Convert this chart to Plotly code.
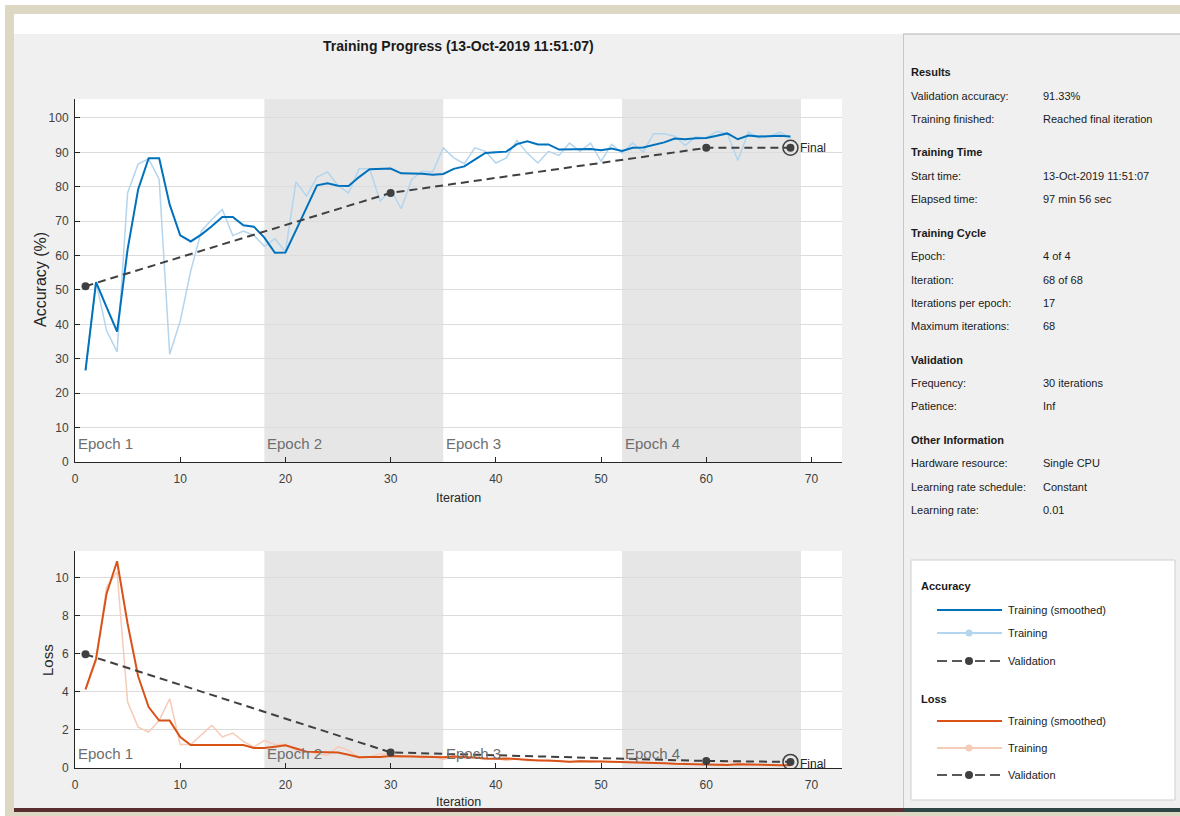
import plotly.graph_objects as go

# ---------------- data ----------------
iterations = list(range(1, 69))

acc_smooth = [26.6, 52.3, 45.0, 37.9, 61.8, 79.2, 88.3, 88.3, 74.8, 65.9,
              64.1, 66.1, 68.5, 71.2, 71.2, 68.8, 68.4, 65.2, 60.8, 60.9,
              67.3, 74.0, 80.4, 81.0, 80.3, 80.2, 82.8, 85.1, 85.3, 85.3,
              83.9, 83.9, 83.8, 83.5, 83.7, 85.2, 85.9, 87.9, 89.8, 90.0,
              90.2, 92.4, 93.2, 92.3, 92.3, 90.8, 90.9, 90.9, 91.0, 90.6,
              91.1, 90.4, 91.3, 91.4, 92.1, 92.9, 94.0, 93.8, 94.1, 94.2,
              94.8, 95.5, 93.8, 94.9, 94.6, 94.7, 94.8, 94.6]

acc_raw = [26.6, 52.3, 38.2, 32.0, 78.2, 86.6, 88.1, 82.1, 31.3, 40.9,
           55.5, 67.1, 70.5, 73.4, 65.8, 67.1, 65.9, 62.7, 64.9, 61.1,
           81.4, 77.3, 82.8, 84.3, 80.3, 78.2, 85.2, 85.2, 75.8, 79.2,
           73.6, 82.1, 84.5, 84.3, 91.3, 88.4, 86.7, 91.3, 90.3, 86.9,
           88.4, 93.5, 89.7, 86.9, 90.3, 89.1, 92.7, 90.3, 92.7, 87.4,
           92.3, 89.8, 92.7, 90.1, 95.4, 95.4, 94.7, 92.0, 94.5, 94.2,
           96.1, 95.4, 87.6, 95.9, 94.2, 94.7, 95.9, 94.2]

loss_smooth = [4.13, 5.74, 9.16, 10.86, 7.58, 4.82, 3.20, 2.49, 2.49, 1.63,
               1.21, 1.21, 1.21, 1.21, 1.21, 1.21, 1.05, 1.05, 1.12, 1.19,
               1.02, 0.86, 0.84, 0.84, 0.81, 0.70, 0.56, 0.58, 0.58, 0.63,
               0.62, 0.60, 0.60, 0.58, 0.56, 0.60, 0.58, 0.55, 0.50, 0.48,
               0.50, 0.46, 0.42, 0.40, 0.40, 0.38, 0.33, 0.35, 0.36, 0.34,
               0.33, 0.32, 0.30, 0.28, 0.27, 0.25, 0.22, 0.21, 0.20, 0.20,
               0.18, 0.16, 0.20, 0.18, 0.17, 0.16, 0.15, 0.15]

loss_raw = [4.13, 5.6, 9.5, 10.3, 3.47, 2.15, 1.89, 2.5, 3.64, 1.23,
            1.23, 1.72, 2.24, 1.63, 1.84, 1.40, 1.10, 1.44, 1.23, 1.23,
            0.93, 0.84, 0.75, 0.67, 1.12, 0.93, 0.53, 0.58, 0.75, 0.70,
            0.55, 0.65, 0.52, 0.60, 0.45, 0.62, 0.50, 0.55, 0.45, 0.50,
            0.40, 0.48, 0.38, 0.42, 0.35, 0.40, 0.30, 0.38, 0.33, 0.36,
            0.30, 0.32, 0.28, 0.30, 0.25, 0.28, 0.20, 0.22, 0.18, 0.20,
            0.15, 0.35, 0.30, 0.15, 0.17, 0.14, 0.16, 0.13]

val_iter = [1, 30, 60, 68]
val_acc = [51.1, 78.2, 91.3, 91.33]
val_loss = [5.97, 0.82, 0.37, 0.32]

epoch_labels = ["Epoch 1", "Epoch 2", "Epoch 3", "Epoch 4"]
epoch_starts = [0, 18, 35, 52]
shaded_epochs = [(18, 35), (52, 69)]

x_ticks = [0, 10, 20, 30, 40, 50, 60, 70]
acc_ticks = [0, 10, 20, 30, 40, 50, 60, 70, 80, 90, 100]
loss_ticks = [0, 2, 4, 6, 8, 10]

info_sections = [
    ("Results", [("Validation accuracy:", "91.33%"),
                 ("Training finished:", "Reached final iteration")]),
    ("Training Time", [("Start time:", "13-Oct-2019 11:51:07"),
                       ("Elapsed time:", "97 min 56 sec")]),
    ("Training Cycle", [("Epoch:", "4 of 4"),
                        ("Iteration:", "68 of 68"),
                        ("Iterations per epoch:", "17"),
                        ("Maximum iterations:", "68")]),
    ("Validation", [("Frequency:", "30 iterations"),
                    ("Patience:", "Inf")]),
    ("Other Information", [("Hardware resource:", "Single CPU"),
                           ("Learning rate schedule:", "Constant"),
                           ("Learning rate:", "0.01")]),
]

# ---------------- styling ----------------
W, H = 1180, 816
SANS = "Liberation Sans, Arial, Helvetica, sans-serif"
BLUE = "#0072BD"
LBLUE = "#b4d5ee"
ORANGE = "#D95319"
LORANGE = "#f6cbb8"
VAL = "#404040"
TAN = "#ddd8c3"
PANEL = "#f0f0f0"
TXT = "#1a1a1a"
AX = "#262626"
PANEL_FS = 11


def px(x):
    return x / W


def py(y):
    return 1 - y / H


fig = go.Figure()

# accuracy traces
fig.add_trace(go.Scatter(x=iterations, y=acc_raw, mode="lines",
                         line=dict(color=LBLUE, width=1.5), xaxis="x", yaxis="y",
                         showlegend=False, name="Training"))
fig.add_trace(go.Scatter(x=iterations, y=acc_smooth, mode="lines",
                         line=dict(color=BLUE, width=2), xaxis="x", yaxis="y",
                         showlegend=False, name="Training (smoothed)"))
fig.add_trace(go.Scatter(x=val_iter, y=val_acc, mode="lines+markers",
                         line=dict(color=VAL, width=2, dash="8px,5px"),
                         marker=dict(color=VAL, size=8), xaxis="x", yaxis="y",
                         showlegend=False, name="Validation"))
fig.add_trace(go.Scatter(x=val_iter[-1:], y=val_acc[-1:], mode="markers",
                         marker=dict(color=VAL, size=15, symbol="circle-open",
                                     line=dict(color=VAL, width=1.5)),
                         xaxis="x", yaxis="y", showlegend=False, hoverinfo="skip"))

# loss traces
fig.add_trace(go.Scatter(x=iterations, y=loss_raw, mode="lines",
                         line=dict(color=LORANGE, width=1.5), xaxis="x2", yaxis="y2",
                         showlegend=False, name="Training"))
fig.add_trace(go.Scatter(x=iterations, y=loss_smooth, mode="lines",
                         line=dict(color=ORANGE, width=2), xaxis="x2", yaxis="y2",
                         showlegend=False, name="Training (smoothed)"))
fig.add_trace(go.Scatter(x=val_iter, y=val_loss, mode="lines+markers",
                         line=dict(color=VAL, width=2, dash="8px,5px"),
                         marker=dict(color=VAL, size=8), xaxis="x2", yaxis="y2",
                         showlegend=False, name="Validation"))
fig.add_trace(go.Scatter(x=val_iter[-1:], y=val_loss[-1:], mode="markers",
                         marker=dict(color=VAL, size=15, symbol="circle-open",
                                     line=dict(color=VAL, width=1.5)),
                         xaxis="x2", yaxis="y2", showlegend=False, hoverinfo="skip"))

shapes = []
annotations = []

# ---- background frame ----
shapes.append(dict(type="rect", xref="paper", yref="paper", x0=0, x1=1, y0=py(0), y1=py(34),
                   fillcolor="white", line_width=0, layer="below"))
shapes.append(dict(type="rect", xref="paper", yref="paper", x0=px(5), x1=1, y0=py(5), y1=py(14),
                   fillcolor=TAN, line_width=0, layer="below"))
shapes.append(dict(type="rect", xref="paper", yref="paper", x0=0, x1=px(5), y0=0, y1=1,
                   fillcolor="white", line_width=0, layer="below"))
shapes.append(dict(type="rect", xref="paper", yref="paper", x0=px(5), x1=px(14), y0=0, y1=py(5),
                   fillcolor=TAN, line_width=0, layer="below"))
shapes.append(dict(type="rect", xref="paper", yref="paper", x0=px(5), x1=1, y0=0, y1=py(812),
                   fillcolor=TAN, line_width=0, layer="below"))
shapes.append(dict(type="rect", xref="paper", yref="paper", x0=px(14), x1=px(903), y0=py(812), y1=py(808),
                   fillcolor="#5a2e2e", line_width=0, layer="below"))
shapes.append(dict(type="rect", xref="paper", yref="paper", x0=px(903), x1=1, y0=py(812), y1=py(808),
                   fillcolor="#2f4444", line_width=0, layer="below"))
shapes.append(dict(type="line", xref="paper", yref="paper", x0=px(903), x1=1, y0=py(34), y1=py(34),
                   line=dict(color="#b0b0b0", width=1), layer="below"))
shapes.append(dict(type="line", xref="paper", yref="paper", x0=px(903.5), x1=px(903.5), y0=py(34), y1=py(808),
                   line=dict(color="#c8c8c8", width=1), layer="below"))
# legend box
shapes.append(dict(type="rect", xref="paper", yref="paper", x0=px(911), x1=px(1175), y0=py(800), y1=py(560),
                   fillcolor="white", line=dict(color="#cfcfcf", width=1), layer="below"))

# ---- epoch shading ----
for (a, b) in shaded_epochs:
    for xr, yr in (("x", "y domain"), ("x2", "y2 domain")):
        shapes.append(dict(type="rect", xref=xr, yref=yr, x0=a, x1=b, y0=0, y1=1,
                           fillcolor="#e6e6e6", line_width=0, layer="below"))

# ---- epoch labels ----
for lab, s in zip(epoch_labels, epoch_starts):
    annotations.append(dict(x=s, y=0, xref="x", yref="y domain", text=lab, showarrow=False,
                            xanchor="left", yanchor="bottom", xshift=1, yshift=8,
                            font=dict(family=SANS, size=15, color="#6e6e6e")))
    annotations.append(dict(x=s, y=0, xref="x2", yref="y2 domain", text=lab, showarrow=False,
                            xanchor="left", yanchor="bottom", xshift=1, yshift=4,
                            font=dict(family=SANS, size=15, color="#6e6e6e")))

# ---- Final labels ----
annotations.append(dict(x=val_iter[-1], y=val_acc[-1], xref="x", yref="y", text="Final",
                        showarrow=False, xanchor="left", yanchor="middle", xshift=8,
                        font=dict(family=SANS, size=12, color=AX)))
annotations.append(dict(x=val_iter[-1], y=val_loss[-1], xref="x2", yref="y2", text="Final",
                        showarrow=False, xanchor="left", yanchor="middle", xshift=8, yshift=-2,
                        font=dict(family=SANS, size=12, color=AX)))

# ---- titles ----
annotations.append(dict(x=px(459), y=py(46), xref="paper", yref="paper",
                        text="<b>Training Progress (13-Oct-2019 11:51:07)</b>", showarrow=False,
                        xanchor="center", yanchor="middle",
                        font=dict(family=SANS, size=14, color=TXT)))
annotations.append(dict(x=px(40), y=py(280), xref="paper", yref="paper", text="Accuracy (%)",
                        textangle=-90, showarrow=False, xanchor="center", yanchor="middle",
                        font=dict(family=SANS, size=16, color=AX)))
annotations.append(dict(x=px(458), y=py(498), xref="paper", yref="paper", text="Iteration",
                        showarrow=False, xanchor="center", yanchor="middle",
                        font=dict(family=SANS, size=12.5, color=AX)))
annotations.append(dict(x=px(47), y=py(660), xref="paper", yref="paper", text="Loss",
                        textangle=-90, showarrow=False, xanchor="center", yanchor="middle",
                        font=dict(family=SANS, size=15, color=AX)))
annotations.append(dict(x=px(458), y=py(802), xref="paper", yref="paper", text="Iteration",
                        showarrow=False, xanchor="center", yanchor="middle",
                        font=dict(family=SANS, size=12.5, color=AX)))

# ---- info panel ----
y = 72
for head, rows in info_sections:
    annotations.append(dict(x=px(909), y=py(y), xref="paper", yref="paper", text=f"<b>{head}</b>",
                            showarrow=False, xanchor="left", yanchor="middle",
                            font=dict(family=SANS, size=PANEL_FS, color=TXT)))
    y += 23.5
    for k, v in rows:
        annotations.append(dict(x=px(909), y=py(y), xref="paper", yref="paper", text=k,
                                showarrow=False, xanchor="left", yanchor="middle",
                                font=dict(family=SANS, size=PANEL_FS, color=TXT)))
        annotations.append(dict(x=px(1041), y=py(y), xref="paper", yref="paper", text=v,
                                showarrow=False, xanchor="left", yanchor="middle",
                                font=dict(family=SANS, size=PANEL_FS, color=TXT)))
        y += 23.2
    y += 10.5

# ---- custom legend ----
legend_groups = [
    ("Accuracy", 585.5, BLUE, LBLUE, 610, 633, 661),
    ("Loss", 699, ORANGE, LORANGE, 721, 748, 775),
]
for title, ty, dark, light, y1, y2, y3 in legend_groups:
    annotations.append(dict(x=px(919), y=py(ty), xref="paper", yref="paper", text=f"<b>{title}</b>",
                            showarrow=False, xanchor="left", yanchor="middle",
                            font=dict(family=SANS, size=PANEL_FS, color=TXT)))
    shapes.append(dict(type="line", xref="paper", yref="paper", x0=px(937), x1=px(1002),
                       y0=py(y1), y1=py(y1), line=dict(color=dark, width=2)))
    shapes.append(dict(type="line", xref="paper", yref="paper", x0=px(937), x1=px(1002),
                       y0=py(y2), y1=py(y2), line=dict(color=light, width=2)))
    shapes.append(dict(type="circle", xref="paper", yref="paper", x0=px(965.5), x1=px(972.5),
                       y0=py(y2 + 3.5), y1=py(y2 - 3.5), fillcolor=light, line_width=0))
    for a, b in ((937, 947), (952, 962), (975, 985), (990, 1000)):
        shapes.append(dict(type="line", xref="paper", yref="paper", x0=px(a), x1=px(b),
                           y0=py(y3), y1=py(y3), line=dict(color="#595959", width=2)))
    shapes.append(dict(type="circle", xref="paper", yref="paper", x0=px(965), x1=px(973),
                       y0=py(y3 + 4), y1=py(y3 - 4), fillcolor=VAL, line_width=0))
    for t, yy in (("Training (smoothed)", y1), ("Training", y2), ("Validation", y3)):
        annotations.append(dict(x=px(1006), y=py(yy), xref="paper", yref="paper", text=t,
                                showarrow=False, xanchor="left", yanchor="middle",
                                font=dict(family=SANS, size=PANEL_FS, color=TXT)))

axis_common = dict(showline=True, linecolor=AX, linewidth=1, ticks="inside", ticklen=5,
                   tickcolor=AX, mirror=False, zeroline=False, automargin=False,
                   tickfont=dict(family=SANS, size=12, color="#404040"))

fig.update_layout(
    width=W, height=H, margin=dict(l=0, r=0, t=0, b=0, pad=0), autosize=False,
    paper_bgcolor=PANEL, plot_bgcolor="white", showlegend=False,
    xaxis=dict(domain=[px(75), px(842)], range=[0, 72.9], anchor="y",
               tickvals=x_ticks, showgrid=False, ticklabelstandoff=6, **axis_common),
    yaxis=dict(domain=[py(462), py(99)], range=[0, 105.5], anchor="x",
               tickvals=acc_ticks, showgrid=True, gridcolor="#dcdcdc", gridwidth=1,
               ticklabelstandoff=3, **axis_common),
    xaxis2=dict(domain=[px(75), px(842)], range=[0, 72.9], anchor="y2",
                tickvals=x_ticks, showgrid=False, ticklabelstandoff=6, **axis_common),
    yaxis2=dict(domain=[py(768), py(551)], range=[0, 11.4], anchor="x2",
                tickvals=loss_ticks, showgrid=True, gridcolor="#dcdcdc", gridwidth=1,
                ticklabelstandoff=3, **axis_common),
    shapes=shapes, annotations=annotations,
)

fig.write_html("out.html", config={"displayModeBar": False},
               post_script="document.body.style.margin='0';document.body.style.overflow='hidden';")
